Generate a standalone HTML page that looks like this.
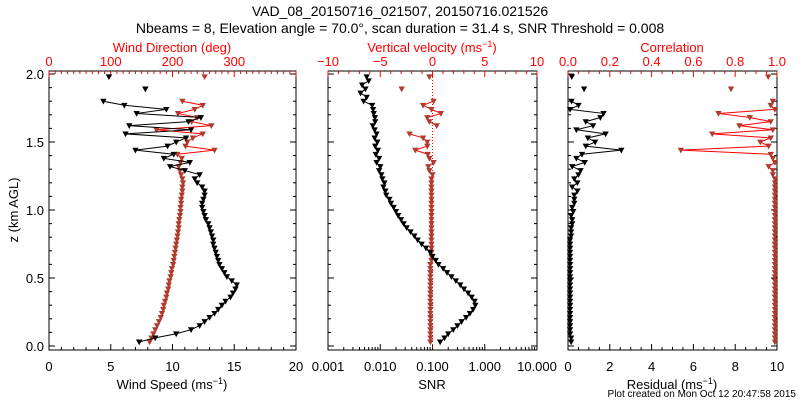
<!DOCTYPE html>
<html><head><meta charset="utf-8"><style>
html,body{margin:0;padding:0;background:#fff;}
svg{display:block;font-family:"Liberation Sans",sans-serif;}
</style></head><body>
<svg id="chart" width="800" height="400" viewBox="0 0 800 400">
<text x="400" y="16" text-anchor="middle" font-size="14">VAD_08_20150716_021507, 20150716.021526</text>
<text x="400" y="33" text-anchor="middle" font-size="14">Nbeams = 8, Elevation angle = 70.0°, scan duration = 31.4 s, SNR Threshold = 0.008</text>
<text x="18" y="210" text-anchor="middle" font-size="13" transform="rotate(-90 18 210)">z (km AGL)</text>
<text x="796" y="397" text-anchor="end" font-size="10">Plot created on Mon Oct 12 20:47:58 2015</text>
<g id="plots"></g>
</svg>
<script>
const heights=[0.03,0.06,0.09,0.12,0.15,0.18,0.21,0.24,0.27,0.30,0.33,0.36,0.39,0.42,0.45,0.48,0.51,0.54,0.57,0.60,0.63,0.66,0.69,0.72,0.75,0.78,0.81,0.84,0.87,0.90,0.93,0.96,0.99,1.02,1.05,1.08,1.11,1.14,1.17,1.20,1.23,1.26,1.29,1.32,1.35,1.38,1.41,1.44,1.47,1.50,1.53,1.56,1.59,1.62,1.65,1.68,1.71,1.74,1.77,1.80,1.83,1.86,1.89,1.92,1.95,1.98];
const windSpeed=[7.3,8.6,10.3,11.5,12.2,12.6,13.0,13.4,13.7,14.0,14.3,14.7,14.9,15.1,15.2,14.8,14.4,14.2,14.0,13.8,13.7,13.6,13.5,13.4,13.3,13.3,13.2,13.1,13.0,12.9,12.7,12.6,12.5,12.4,12.4,12.5,12.6,12.6,12.4,12.0,11.8,12.2,11.0,9.8,11.4,9.3,10.1,7.0,9.6,10.3,11.1,6.2,11.5,6.5,11.3,12.3,7.1,9.5,6.1,4.4,null,null,7.8,null,null,4.85];
const windDir=[163,166,169,172,175,178,181,183,185,186,188,190,191,193,194,195,197,198,199,201,202,203,204,205,206,207,208,209,210,210,211,212,213,213,214,214,215,216,216,217,216,214,212,210,213,215,208,268,221,224,233,249,174,263,231,240,209,236,249,216,null,null,156,null,null,252];
const snr=[0.14,0.17,0.20,0.25,0.30,0.36,0.44,0.52,0.60,0.66,0.64,0.56,0.48,0.40,0.34,0.28,0.23,0.19,0.16,0.13,0.115,0.10,0.09,0.075,0.062,0.052,0.045,0.038,0.032,0.028,0.025,0.022,0.020,0.018,0.016,0.015,0.013,0.0125,0.0115,0.012,0.011,0.0105,0.0095,0.0100,0.0085,0.0095,0.0082,0.0090,0.0080,0.0088,0.0078,0.0085,0.0078,0.0072,0.0080,0.0079,0.0075,0.0073,0.0070,0.0048,0.0055,0.0042,0.0052,0.0045,0.0060,0.0055];
const vertVel=[-0.2,-0.2,-0.2,-0.2,-0.2,-0.2,-0.2,-0.2,-0.2,-0.2,-0.2,-0.2,-0.2,-0.2,-0.2,-0.2,-0.2,-0.2,-0.2,-0.2,-0.1,-0.1,-0.1,-0.1,-0.1,-0.1,-0.1,-0.1,-0.1,-0.1,-0.1,-0.1,-0.1,-0.1,-0.1,-0.1,-0.1,-0.1,-0.1,-0.1,-0.1,0.0,-0.3,-0.4,0.1,-0.3,-0.45,-1.65,-0.5,-0.5,-0.9,-2.2,null,0.4,-0.3,-0.5,0.8,-0.1,-0.9,0.1,null,null,-2.95,null,null,-0.3];
const residual=[0.15,0.15,0.1,0.1,0.1,0.1,0.1,0.1,0.1,0.1,0.1,0.1,0.1,0.1,0.1,0.1,0.1,0.1,0.1,0.1,0.1,0.1,0.1,0.1,0.1,0.1,0.15,0.15,0.15,0.2,0.2,0.15,0.25,0.2,0.3,0.3,0.3,0.45,0.2,0.45,0.3,0.5,0.6,0.2,0.8,0.4,0.67,2.55,0.85,1.3,0.95,1.8,0.4,1.2,0.85,1.55,1.7,0.1,0.5,0.17,null,null,0.77,null,null,0.18];
const correlation=[0.99,0.99,0.99,0.99,0.99,0.99,0.99,0.99,0.99,0.99,0.99,0.99,0.99,0.99,0.99,0.99,0.99,0.99,0.99,0.99,0.99,0.99,0.99,0.99,0.99,0.99,0.99,0.99,0.99,0.99,0.99,0.99,0.99,0.99,0.99,0.99,0.99,0.99,0.99,0.99,0.99,0.98,0.98,0.96,0.99,0.98,0.97,0.54,0.96,0.92,0.97,0.69,0.98,0.82,0.97,0.87,0.72,0.99,0.97,0.98,null,null,0.78,null,null,0.958];

const NS='http://www.w3.org/2000/svg';
const root=document.getElementById('plots');
const Y0=346,Y1=74,TOP=71,BOT=350;
function yScale(z){return Y0+(Y1-Y0)*z/2;}
function mk(tag,attrs,parent){const e=document.createElementNS(NS,tag);for(const k in attrs)e.setAttribute(k,attrs[k]);(parent||root).appendChild(e);return e;}
function linScale(a,b,x0,x1){return v=>x0+(v-a)/(b-a)*(x1-x0);}
function logScale(a,b,x0,x1){return v=>x0+(Math.log10(v)-Math.log10(a))/(Math.log10(b)-Math.log10(a))*(x1-x0);}

function panel(name,x0,x1){
  const g=mk('g',{});
  
  
  const r=mk('rect',{x:x0,y:TOP,width:x1-x0,height:BOT-TOP,fill:'none',stroke:'#000','stroke-width':1},g);
  
  
  for(let i=0;i<=20;i++){
    const z=i*0.1,y=yScale(z),L=(i%5===0)?6:3;
    mk('line',{x1:x0,x2:x0+L,y1:y,y2:y,stroke:'#000'},g);
    mk('line',{x1:x1,x2:x1-L,y1:y,y2:y,stroke:'#000'},g);
  }
  return g;
}
function ticks(g,vals,sc,major,y,dir,color){
  vals.forEach((v,i)=>{const x=sc(v);const L=major(v,i)?6:3;mk('line',{x1:x,x2:x,y1:y,y2:y+dir*L,stroke:color},g);});
}
function labels(g,labs,vals,sc,y,color,nameBase){
  labs.forEach((t,i)=>{const e=mk('text',{x:sc(vals[i]),y:y,'text-anchor':'middle','font-size':13,fill:color},g);e.textContent=t;
  
  });
}
function title(g,x,y,html,color,name){
  const e=mk('text',{x:x,y:y,'text-anchor':'middle','font-size':13,fill:color},g);e.innerHTML=html;
  
  
}
function marker(g,x,y,color){
  const m=mk('path',{d:`M${x-2.5},${y-2}L${x+2.5},${y-2}L${x},${y+2.5}Z`,fill:color,stroke:color,'stroke-width':0.8},g);
  
  
}
function series(g,vals,sc,color,lineColorFn,name){
  const sg=mk('g',{},g);
  
  
  for(let i=1;i<vals.length;i++){
    if(vals[i]==null||vals[i-1]==null)continue;
    mk('line',{x1:sc(vals[i-1]),y1:yScale(heights[i-1]),x2:sc(vals[i]),y2:yScale(heights[i]),stroke:lineColorFn(heights[i]),'stroke-width':1},sg);
  }
  vals.forEach((v,i)=>{if(v!=null)marker(sg,sc(v),yScale(heights[i]),color);});
}
const BR='#b03a2e';
const redUpper=z=>z>1.3?'#f00':BR;

// Panel 1
const p1=panel('wind-panel',49,296);
const sx1=linScale(0,20,49,296), dx1=linScale(0,400,49,296);
const ws=[];for(let v=0;v<=20;v++)ws.push(v);
ticks(p1,ws,sx1,v=>v%5===0,BOT,-1,'#000');
const wd=[];for(let v=0;v<=400;v+=10)wd.push(v);
ticks(p1,wd,dx1,v=>v%100===0,TOP,1,'#f00');
labels(p1,['0','5','10','15','20'],[0,5,10,15,20],sx1,371,'#000','wind-speed');
labels(p1,['0','100','200','300'],[0,100,200,300],dx1,66,'#f00','wind-direction');
title(p1,172,389,'Wind Speed (ms<tspan dy="-5" font-size="9">−1</tspan><tspan dy="5">)</tspan>','#000','x-axis-title-wind-speed');
title(p1,172,52,'Wind Direction (deg)','#f00','x-axis-title-wind-direction');
const yl=['0.0','0.5','1.0','1.5','2.0'];
yl.forEach((t,i)=>{const e=mk('text',{x:44,y:yScale(i*0.5)+5,'text-anchor':'end','font-size':13},p1);e.textContent=t;

});
series(p1,windDir,dx1,BR,redUpper,'wind-direction-series');
series(p1,windSpeed,sx1,'#000',()=>'#000','wind-speed-series');

// Panel 2
const p2=panel('snr-panel',328,537);
const sx2=logScale(0.001,10,328,537), vx2=linScale(-10,10,328,537);
const sn=[];for(let d=-3;d<1;d++)for(let m=1;m<10;m++)sn.push(m*Math.pow(10,d));sn.push(10);
ticks(p2,sn,sx2,(v,i)=>i%9===0,BOT,-1,'#000');
const vv=[];for(let v=-10;v<=10;v++)vv.push(v);
ticks(p2,vv,vx2,v=>v%5===0,TOP,1,'#f00');
labels(p2,['0.001','0.010','0.100','1.000','10.000'],[0.001,0.01,0.1,1,10],sx2,371,'#000','snr');
labels(p2,['−10','−5','0','5','10'],[-10,-5,0,5,10],vx2,66,'#f00','vertical-velocity');
title(p2,432,389,'SNR','#000','x-axis-title-snr');
title(p2,432,52,'Vertical velocity (ms<tspan dy="-5" font-size="9">−1</tspan><tspan dy="5">)</tspan>','#f00','x-axis-title-vertical-velocity');
const zl=mk('line',{x1:vx2(0),x2:vx2(0),y1:TOP,y2:BOT,stroke:'#f00','stroke-dasharray':'1,2'},p2);


series(p2,vertVel,vx2,BR,redUpper,'vertical-velocity-series');
series(p2,snr,sx2,'#000',()=>'#000','snr-series');

// Panel 3
const p3=panel('residual-panel',568,777);
const rx3=linScale(0,10,568,777), cx3=linScale(0,1,568,777);
const rr=[];for(let v=0;v<=20;v++)rr.push(v*0.5);
ticks(p3,rr,rx3,(v,i)=>i%4===0,BOT,-1,'#000');
const cc=[];for(let v=0;v<=20;v++)cc.push(v*0.05);
ticks(p3,cc,cx3,(v,i)=>i%4===0,TOP,1,'#f00');
labels(p3,['0','2','4','6','8','10'],[0,2,4,6,8,10],rx3,371,'#000','residual');
labels(p3,['0.0','0.2','0.4','0.6','0.8','1.0'],[0,0.2,0.4,0.6,0.8,1],cx3,66,'#f00','correlation');
title(p3,672,389,'Residual (ms<tspan dy="-5" font-size="9">−1</tspan><tspan dy="5">)</tspan>','#000','x-axis-title-residual');
title(p3,672,52,'Correlation','#f00','x-axis-title-correlation');
series(p3,correlation,cx3,BR,redUpper,'correlation-series');
series(p3,residual,rx3,'#000',()=>'#000','residual-series');
</script>
</body></html>
